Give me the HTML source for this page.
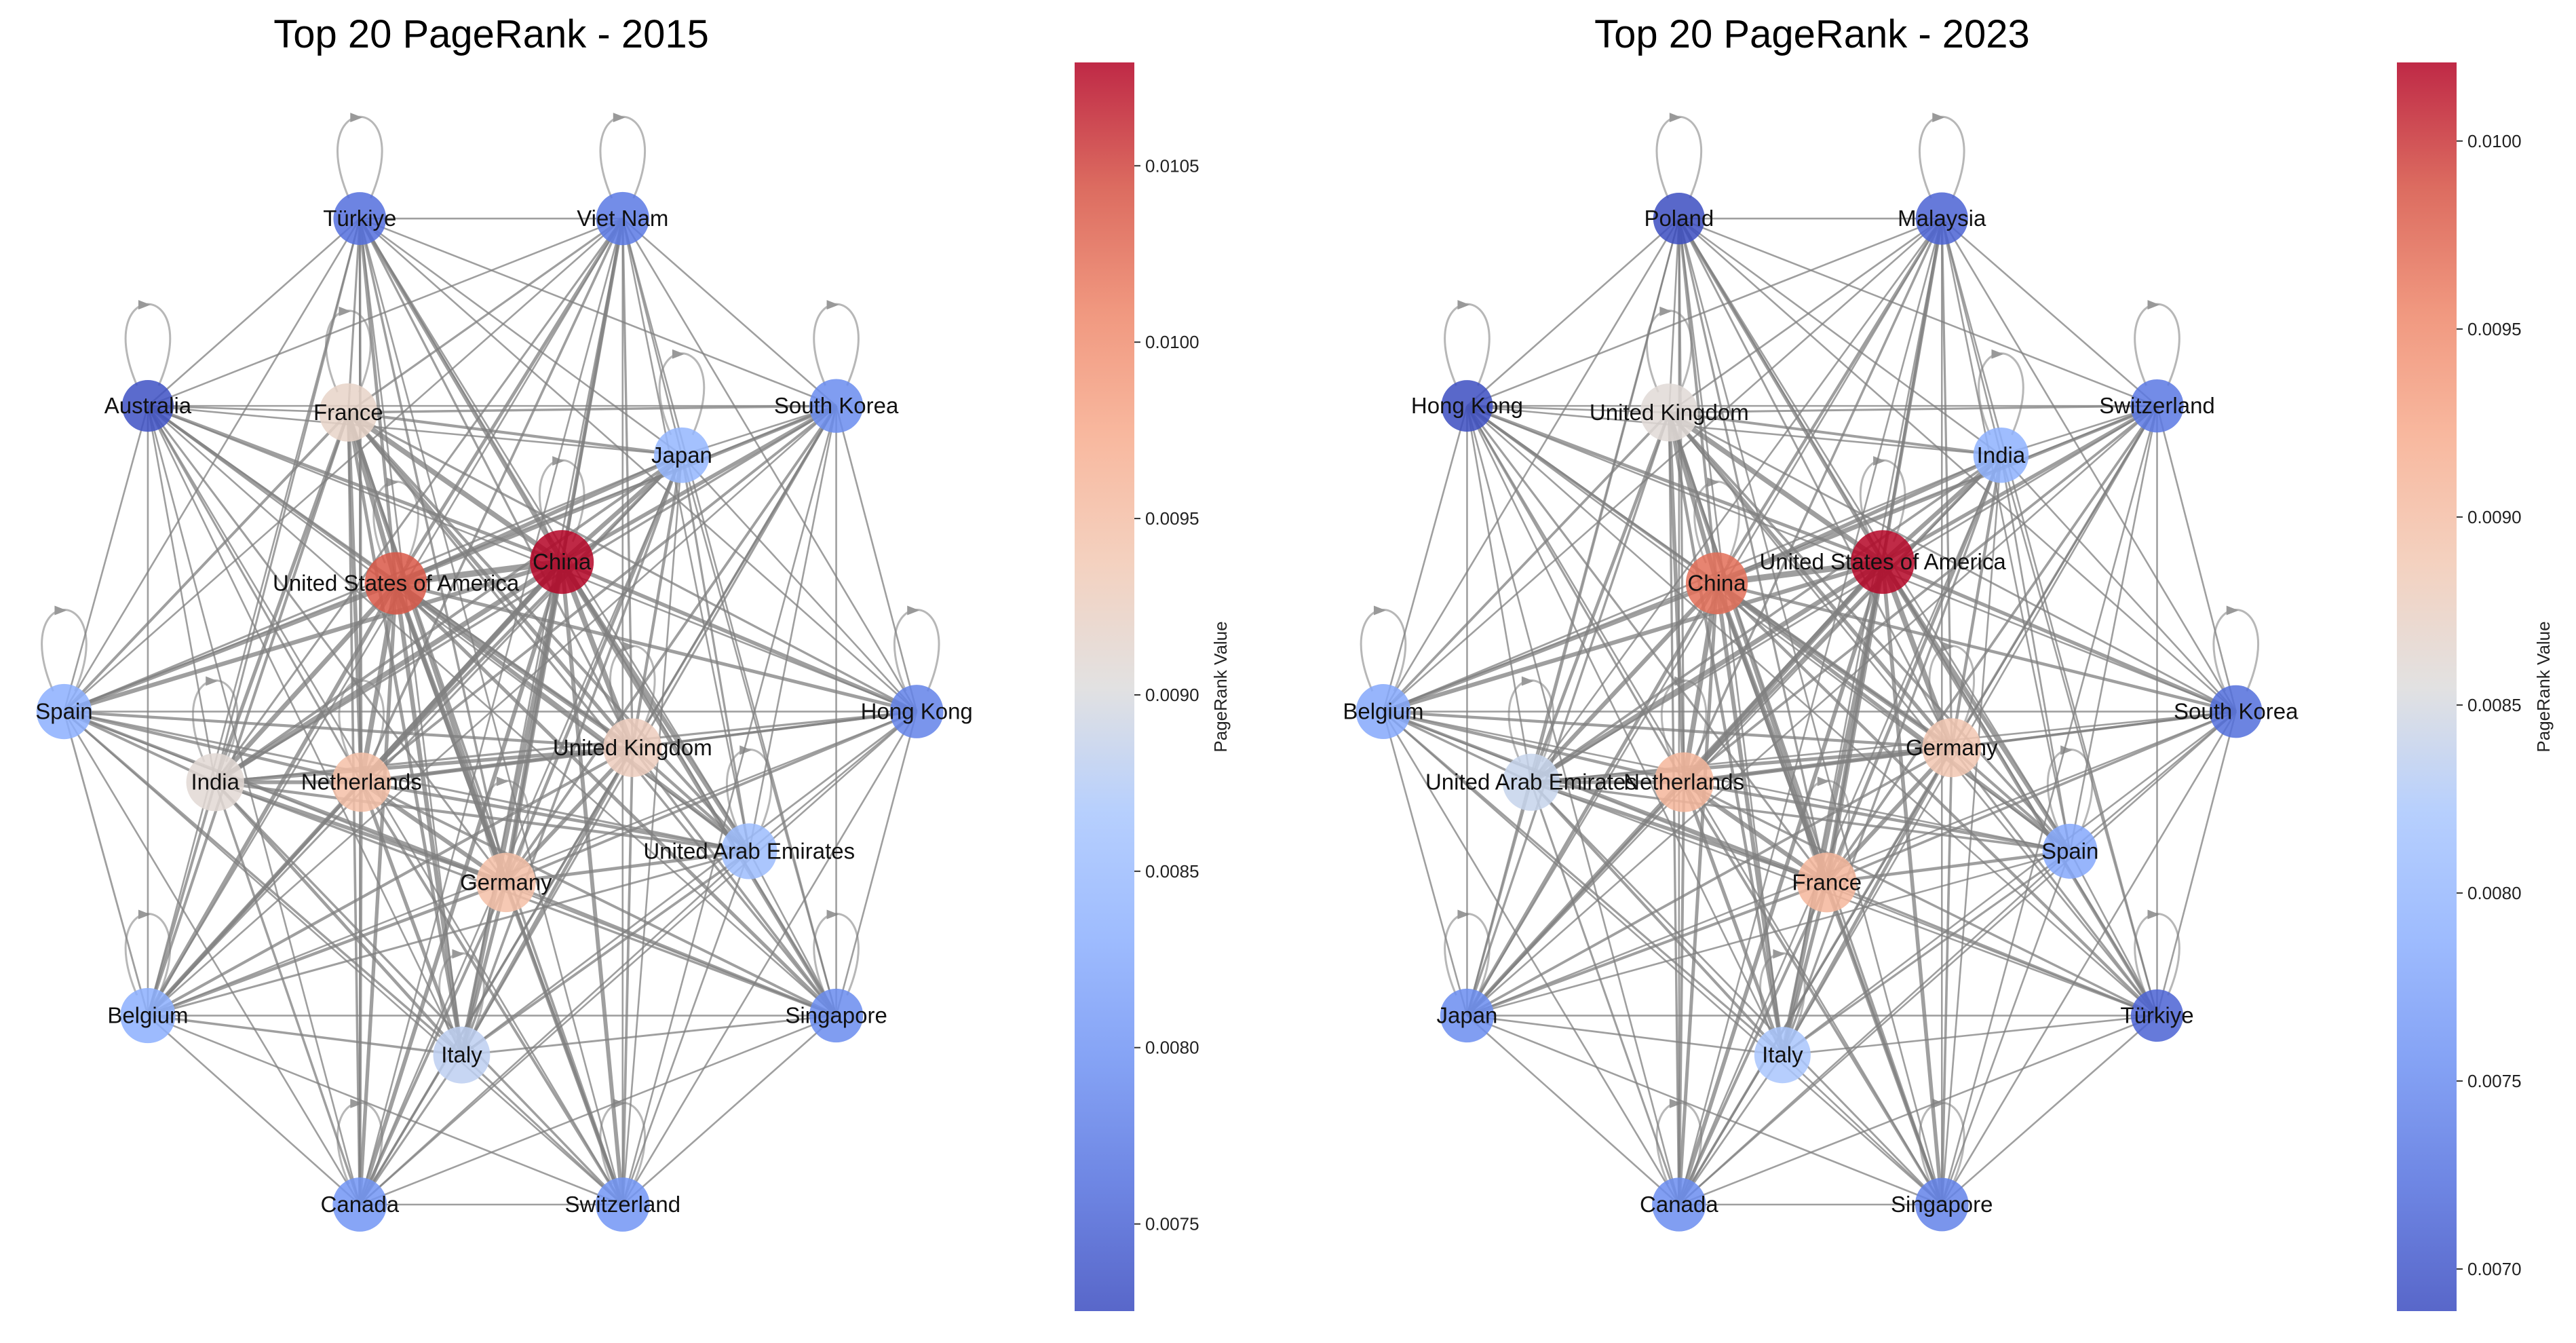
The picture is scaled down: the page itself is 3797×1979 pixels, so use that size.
<!DOCTYPE html>
<html><head><meta charset="utf-8">
<style>
html,body{margin:0;padding:0;background:#fff;}
svg{display:block;font-family:"Liberation Sans",sans-serif;}
</style></head>
<body>
<svg id="chart" width="3797" height="1979" viewBox="0 0 3797 1979" xmlns="http://www.w3.org/2000/svg">
<defs>
<linearGradient id="cmapL" x1="0" y1="1" x2="0" y2="0"></linearGradient>
<linearGradient id="cmapR" x1="0" y1="1" x2="0" y2="0"></linearGradient>
</defs>
<g id="panelL"></g>
<g id="panelR"></g>
</svg>
<script>
// ---- data ----
const namesL = ["Türkiye","Viet Nam","Australia","France","South Korea","Japan","China","United States of America","Spain","Hong Kong","India","Netherlands","United Kingdom","United Arab Emirates","Germany","Belgium","Singapore","Italy","Canada","Switzerland"];
const prL = [0.0076,0.0077,0.0073,0.0092,0.0079,0.0084,0.0108,0.0104,0.0083,0.0078,0.0091,0.0095,0.0093,0.0085,0.0095,0.0083,0.0079,0.0088,0.0080,0.0080];
const posXL = [219,379,90,212,509,415,342,241,39,558,131,220,385,456,308,90,509,281,219,379];
const posYL = [133,133,247,251,247,277,342,355,433,433,476,476,455,518,537,618,618,642,733,733];
const namesR = ["Poland","Malaysia","Hong Kong","United Kingdom","Switzerland","India","United States of America","China","Belgium","South Korea","United Arab Emirates","Netherlands","Germany","Spain","France","Japan","Türkiye","Italy","Canada","Singapore"];
const prR = [0.0069,0.0071,0.0069,0.0086,0.0073,0.0079,0.0102,0.0097,0.0078,0.0072,0.0084,0.0091,0.0089,0.0078,0.0091,0.0075,0.0071,0.0082,0.0075,0.0074];
const posXR = [1022,1182,893,1016,1313,1218,1146,1045,842,1361,932,1025,1188,1260,1112,893,1313,1085,1022,1182];
const posYR = [133,133,247,251,247,277,342,355,433,433,476,476,455,518,537,618,618,642,733,733];
const ticksL = [0.0075,0.0080,0.0085,0.0090,0.0095,0.0100,0.0105];
const ticksR = [0.0070,0.0075,0.0080,0.0085,0.0090,0.0095,0.0100];
const rangeL = [0.007253,0.010793];
const rangeR = [0.006888,0.010209];
// ---- helpers ----
const S = 3797/1568;
const NS = "http://www.w3.org/2000/svg";
const stops = [[59,76,192],[84,112,222],[111,146,243],[141,176,254],[170,199,253],[221,220,220],[242,201,180],[247,172,142],[238,134,105],[214,82,68],[180,4,38]];
function cmap(t){t=Math.max(0,Math.min(1,t));const f=t*10,i=Math.min(9,Math.floor(f)),u=f-i;const a=stops[i],b=stops[i+1];return `rgb(${a.map((v,k)=>Math.round(v+(b[k]-v)*u)).join(",")})`;}
function mk(tag,attrs,parent){const e=document.createElementNS(NS,tag);for(const k in attrs)e.setAttribute(k,attrs[k]);parent.appendChild(e);return e;}
function panel(gid,gradId,names,pr,px,py,ticks,range,title,titleX,cbX,labelX){
  const g=document.getElementById(gid);
  const grad=document.getElementById(gradId);
  for(let i=0;i<=10;i++){mk("stop",{offset:i/10,"stop-color":cmap(i/10)},grad);}
  const t=mk("text",{x:titleX*S,y:70,"font-size":58,"text-anchor":"middle",fill:"#000"},g);
  t.textContent=title;
  
  
  const n=names.length;
  const X=i=>px[i]*S, Y=i=>py[i]*S;
  const norm=v=>(v-range[0])/(range[1]-range[0]);
  // self loops
  for(let i=0;i<n;i++){
    const x=X(i),y=Y(i);
    const p=mk("path",{d:`M ${x-16} ${y-30} C ${x-85} ${y-190}, ${x+85} ${y-190}, ${x+16} ${y-30}`,fill:"none",stroke:"#aaa","stroke-width":3,opacity:0.85},g);
    
    
    const a=mk("path",{d:`M ${x-14} ${y-156} l 18 7 l -18 7 z`,fill:"#999"},g);
    
    
  }
  // edges (complete graph, width by endpoint pagerank)
  for(let i=0;i<n;i++)for(let j=i+1;j<n;j++){
    const w=2.6+5*Math.max(0,(norm(pr[i])+norm(pr[j])-0.55));
    const l=mk("line",{x1:X(i),y1:Y(i),x2:X(j),y2:Y(j),stroke:"#808080","stroke-width":w.toFixed(2),opacity:0.75},g);
    
    
  }
  // nodes
  for(let i=0;i<n;i++){
    const r=38+9*norm(pr[i]);
    const c=mk("circle",{cx:X(i),cy:Y(i),r:r,fill:cmap(norm(pr[i])),opacity:0.85},g);
    
    
  }
  for(let i=0;i<n;i++){
    const tx=mk("text",{x:X(i),y:Y(i)+11,"font-size":33,"text-anchor":"middle",fill:"#111"},g);
    tx.textContent=names[i];
    
    
  }
  // colorbar
  const top=92,bot=1932,cx0=cbX,cw=88;
  const bar=mk("rect",{x:cx0,y:top,width:cw,height:bot-top,fill:`url(#${gradId})`,opacity:0.85},g);
  
  
  const cy=v=>bot-(v-range[0])/(range[1]-range[0])*(bot-top);
  ticks.forEach(v=>{
    const tk=mk("line",{x1:cx0+cw,y1:cy(v),x2:cx0+cw+9,y2:cy(v),stroke:"#333","stroke-width":2},g);
    
    
    const tl=mk("text",{x:cx0+cw+16,y:cy(v)+9,"font-size":26,fill:"#222"},g);
    tl.textContent=v.toFixed(4);
    
    
  });
  const lb=mk("text",{x:labelX,y:1012,"font-size":26,"text-anchor":"middle",fill:"#222",transform:`rotate(-90 ${labelX} 1012)`},g);
  lb.textContent="PageRank Value";
  
  
}
panel("panelL","cmapL",namesL,prL,posXL,posYL,ticksL,rangeL,"Top 20 PageRank - 2015",299,1584,1808);
panel("panelR","cmapR",namesR,prR,posXR,posYR,ticksR,rangeR,"Top 20 PageRank - 2023",1103,3533,3758);
</script>
</body></html>
